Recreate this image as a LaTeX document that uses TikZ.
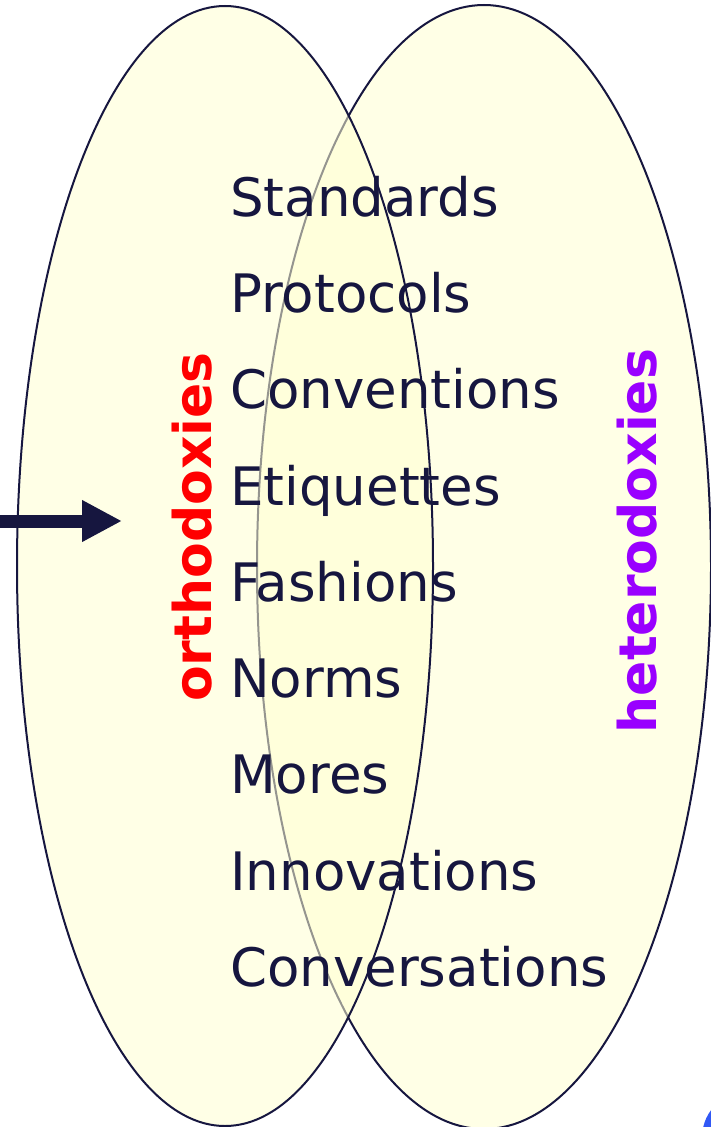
\documentclass[tikz,border=0pt]{standalone}
\usepackage{fontspec}
\setmainfont{DejaVu Sans}
\usetikzlibrary{arrows.meta}

\definecolor{ink}{HTML}{16163F}
\definecolor{cream}{HTML}{FFFFD2}
\definecolor{ortho}{HTML}{FF0000}
\definecolor{hetero}{HTML}{9900FF}
\definecolor{logoblue}{HTML}{3158F5}

\tikzset{
  blob/.style={draw=ink, line width=2pt, fill=cream, fill opacity=0.55},
  term/.style={anchor=base west, text=ink, inner sep=0pt, font=\fontsize{53}{53}\selectfont},
  side/.style={rotate=90, inner sep=0pt, font=\fontsize{52}{52}\selectfont\bfseries}
}

\begin{document}
\begin{tikzpicture}[x=1pt, y=-1pt]
    \useasboundingbox (0,0) rectangle (711,1127);
    \clip (0,0) rectangle (711,1127);

    % the two sets, right one first so the left one lies over it
    \draw[blob] (484,567) ellipse [x radius=227pt, y radius=562pt];
    \draw[blob] (225,566) ellipse [x radius=208pt, y radius=560pt];

    \fill[logoblue] (738,1138) ellipse [x radius=36pt, y radius=42pt];

    \node[side, text=ortho] (orth) at (192,527) {orthodoxies};
    \node[side, text=hetero] (heter) at (637,541) {heterodoxies};

    \node[term] (standards) at (230,216) {Standards};
    \node[term] (protocols) at (230,312) {Protocols};
    \node[term] (conventions) at (230,408) {Conventions};
    \node[term] (etiquettes) at (230,505) {Etiquettes};
    \node[term] (fashions) at (230,601) {Fashions};
    \node[term] (norms) at (230,697) {Norms};
    \node[term] (mores) at (230,793) {Mores};
    \node[term] (innovations) at (230,890) {Innovations};
    \node[term] (conversations) at (230,986) {Conversations};

    \coordinate (arrowtail) at (-5,521);
    \coordinate (arrowhead) at (122,521);
    \draw[ink, line width=13pt, -{Triangle[length=40pt, width=39pt]}] (arrowtail) -- (arrowhead);
\end{tikzpicture}
\end{document}
